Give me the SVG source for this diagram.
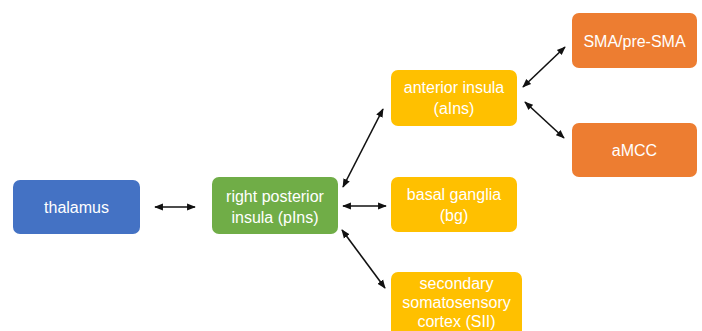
<svg xmlns="http://www.w3.org/2000/svg" width="702" height="331" viewBox="0 0 702 331">
<defs>
<marker id="ah" viewBox="0 0 10 10" refX="9" refY="5" markerWidth="5.5" markerHeight="5.5" orient="auto-start-reverse" markerUnits="strokeWidth">
<path d="M0,1 L10,5 L0,9 z" fill="#111"/>
</marker>
<style>
.box{stroke:none}
.blue{fill:#4472C4}
.green{fill:#70AD47}
.yellow{fill:#FFC000}
.orange{fill:#ED7D31}
text{font-family:"Liberation Sans","Open Sans",Arial,sans-serif;font-size:16px;fill:#fff;text-anchor:middle;dominant-baseline:central}
.conn line{stroke:#111;stroke-width:1.6;marker-start:url(#ah);marker-end:url(#ah)}
</style>
</defs>
<rect width="702" height="331" fill="#fff"/>
<g id="thalamus"><rect class="box blue" x="13" y="180" width="127" height="54" rx="7"/><text x="76.5" y="207">thalamus</text></g>
<g id="pIns"><rect class="box green" x="212" y="177" width="126" height="57" rx="7"/><text x="275" y="196">right posterior</text><text x="275" y="217">insula (pIns)</text></g>
<g id="aIns"><rect class="box yellow" x="391" y="70" width="126" height="56" rx="7"/><text x="454" y="87">anterior insula</text><text x="454" y="108">(aIns)</text></g>
<g id="bg"><rect class="box yellow" x="391" y="177" width="126" height="55" rx="7"/><text x="454" y="194">basal ganglia</text><text x="454" y="215">(bg)</text></g>
<g id="SII"><rect class="box yellow" x="391" y="272" width="131" height="70" rx="7"/><text x="456.5" y="283">secondary</text><text x="456.5" y="302">somatosensory</text><text x="456.5" y="321">cortex (SII)</text></g>
<g id="SMA"><rect class="box orange" x="572" y="13" width="125" height="55" rx="7"/><text x="634.5" y="41">SMA/pre-SMA</text></g>
<g id="aMCC"><rect class="box orange" x="572" y="123" width="125" height="54" rx="7"/><text x="634.5" y="150">aMCC</text></g>
<g class="conn" id="connectors">
<line x1="155" y1="207" x2="195" y2="207"/>
<line x1="343" y1="187" x2="383" y2="109"/>
<line x1="343" y1="206" x2="386" y2="206"/>
<line x1="342" y1="230" x2="385" y2="288"/>
<line x1="523" y1="87" x2="565" y2="47"/>
<line x1="525" y1="102" x2="564" y2="138"/>
</g>
</svg>
